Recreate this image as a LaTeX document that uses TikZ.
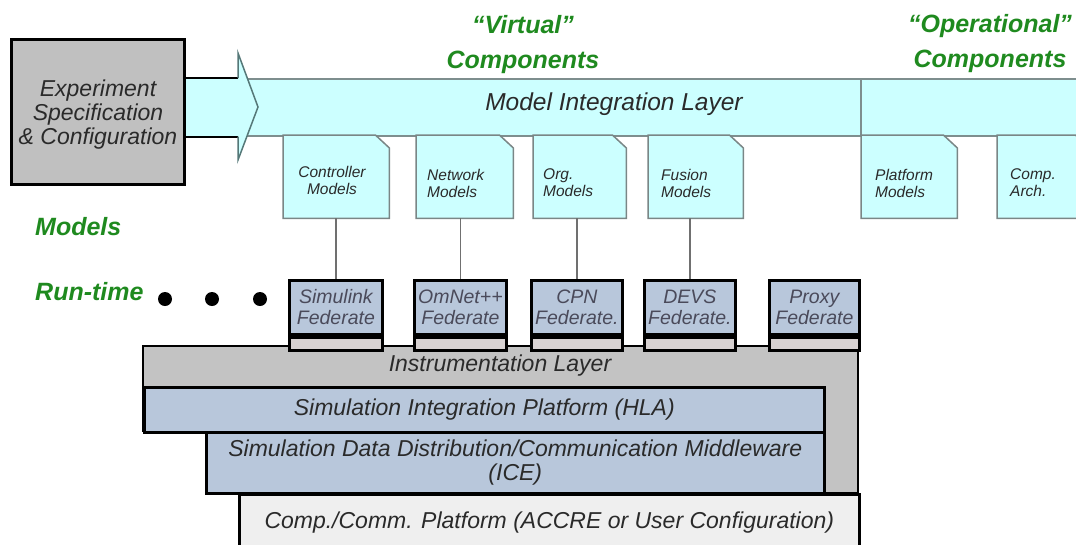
\documentclass[tikz,border=0pt]{standalone}
\usepackage{fontspec}
\setmainfont{Liberation Sans}
\usetikzlibrary{calc}
\definecolor{cyanfill}{HTML}{CCFFFF}
\definecolor{bandline}{HTML}{7E8E8E}
\definecolor{headline}{HTML}{557878}
\definecolor{fedblue}{HTML}{B8C7DB}
\definecolor{fedstrip}{HTML}{D8D2D2}
\definecolor{instgray}{HTML}{C3C3C3}
\definecolor{compgray}{HTML}{EFEFEF}
\definecolor{expgray}{HTML}{C0C0C0}
\definecolor{hdgreen}{HTML}{1F8A1F}
\definecolor{txtgray}{HTML}{2A2A2A}
\definecolor{fedtxt}{HTML}{4A4A5A}
\definecolor{mboxline}{HTML}{7A8686}
\definecolor{connline}{HTML}{707070}
\newcommand\foldbox[1]{\draw[mline] (#1.south west) -- (#1.north west) -- ([xshift=-14pt]#1.north east) -- ([yshift=-13pt]#1.north east) -- (#1.south east) -- cycle;}
\begin{document}
\begin{tikzpicture}[x=1pt,y=-1pt,
  expbox/.style={draw=black,line width=3pt,fill=expgray,inner sep=0pt},
  exptext/.style={inner sep=0pt,align=center,text=txtgray,font=\fontsize{23}{24}\selectfont\itshape},
  bandseg/.style={draw=bandline,line width=1.5pt,fill=cyanfill,inner sep=0pt,minimum height=57pt},
  mboxarea/.style={inner sep=0pt,minimum height=83pt},
  mline/.style={draw=mboxline,line width=1.5pt,fill=cyanfill},
  mtext/.style={inner sep=0pt,align=left,text=txtgray,font=\fontsize{15.5}{17}\selectfont\itshape},
  fed/.style={draw=black,line width=2.8pt,fill=fedblue,inner sep=0pt,minimum height=54pt,align=center,
    text=fedtxt,font=\fontsize{19.5}{21}\selectfont\itshape},
  fstrip/.style={draw=black,line width=2.8pt,fill=fedstrip,inner sep=0pt,minimum height=13pt},
  conn/.style={draw=connline,line width=1.5pt},
  grn/.style={text=hdgreen,inner sep=0pt,align=center,font=\fontsize{25}{35}\selectfont\bfseries\itshape},
  layer/.style={draw=black,line width=2.6pt,inner sep=0pt,align=center,text=txtgray,
    font=\fontsize{23}{24}\selectfont\itshape},
  dotn/.style={circle,fill=black,inner sep=0pt,minimum size=14pt}]
\useasboundingbox (0,0) rectangle (1076,544);
\clip (0,0) rectangle (1076,544);

% headers
\node[grn] (hvirt) at (523,45) {“Virtual”\\Components};
\node[grn] (hoper) at (990,44) {“Operational”\\Components};

% model integration band
\node[bandseg,minimum width=622pt,anchor=north west] (bandv) at (238,78) {};
\node[bandseg,minimum width=240pt,anchor=north west] (bando) at (860,78) {};
\node[inner sep=0pt,text=txtgray,font=\fontsize{24.5}{26}\selectfont\itshape] (milt) at (614,104) {Model Integration Layer};

% experiment box and arrow
\node[expbox,minimum width=173pt,minimum height=145pt,anchor=north west] (exp) at (10,38) {};
\node[exptext] (expt) at ([yshift=-3pt]exp.center) {Experiment\\Specification\\\& Configuration};
\coordinate (htop) at (238,53);
\coordinate (htip) at (258,107);
\coordinate (hbot) at (238,160);
\fill[cyanfill] (exp.east |- bandv.north) -- (bandv.north west) -- (htop) -- (htip) -- (hbot) -- (bandv.south west) -- (exp.east |- bandv.south) -- cycle;
\draw[black,line width=2pt] (exp.east |- bandv.north) -- (bandv.north west);
\draw[black,line width=2pt] (exp.east |- bandv.south) -- (bandv.south west);
\draw[headline,line width=1.5pt,line join=miter] (bandv.north west) -- (htop) -- (htip) -- (hbot) -- (bandv.south west);

% model boxes
\node[mboxarea,minimum width=106pt,anchor=north west] (mc) at (283,135) {};
\node[mboxarea,minimum width=97pt,anchor=north west] (mn) at (416,135) {};
\node[mboxarea,minimum width=93pt,anchor=north west] (mo) at (533,135) {};
\node[mboxarea,minimum width=95pt,anchor=north west] (mf) at (648,135) {};
\node[mboxarea,minimum width=96pt,anchor=north west] (mp) at (861,135) {};
\node[mboxarea,minimum width=92pt,anchor=north west] (ma) at (997,135) {};
\foldbox{mc}\foldbox{mn}\foldbox{mo}\foldbox{mf}\foldbox{mp}\foldbox{ma}
\node[mtext,align=center] (mct) at (332,180) {Controller\\Models};
\node[mtext,anchor=west] (mnt) at (427,183) {Network\\Models};
\node[mtext,anchor=west] (mot) at (543,183) {Org.\\Models};
\node[mtext,anchor=west] (mft) at (661,183) {Fusion\\Models};
\node[mtext,anchor=west] (mpt) at (875,183) {Platform\\Models};
\node[mtext,anchor=west] (mat) at (1010,183) {Comp.\\Arch.};

% side labels
\node[grn,anchor=west] (lmod) at (35,227) {Models};
\node[grn,anchor=west] (lrun) at (35,292) {Run-time};
\node[dotn] (d1) at (165,299) {};
\node[dotn] (d2) at (212,299) {};
\node[dotn] (d3) at (260,299) {};

% layers
\draw[black,line width=2.6pt,fill=instgray] (143,346) -- (858,346) -- (858,493) -- (823,493) -- (823,431) -- (143,431) -- cycle;
\node[inner sep=0pt,text=txtgray,font=\fontsize{23}{24}\selectfont\itshape] (inst) at (500,366) {Instrumentation Layer};
\node[layer,fill=fedblue,minimum width=680pt,minimum height=45pt,anchor=north west] (hla) at (143,386) {Simulation Integration Platform (HLA)};
\node[layer,fill=fedblue,minimum width=618pt,minimum height=61pt,anchor=north west] (ice) at (205,431) {Simulation Data Distribution/Communication Middleware\\(ICE)};
\node[layer,fill=compgray,minimum width=620pt,minimum height=56pt,anchor=north west] (comp) at (238,493) {Comp./Comm. Platform (ACCRE or User Configuration)};

% federates
\node[fed,minimum width=93pt,anchor=north west] (fs) at (288,279) {Simulink\\Federate};
\node[fed,minimum width=92pt,anchor=north west] (fo) at (413,279) {OmNet++\\Federate};
\node[fed,minimum width=91pt,anchor=north west] (fc) at (530,279) {CPN\\Federate.};
\node[fed,minimum width=91pt,anchor=north west] (fd) at (643,279) {DEVS\\Federate.};
\node[fed,minimum width=90pt,anchor=north west] (fp) at (768,279) {Proxy\\Federate};
\node[fstrip,minimum width=93pt,anchor=north west] (ss) at (fs.south west) {};
\node[fstrip,minimum width=92pt,anchor=north west] (so) at (fo.south west) {};
\node[fstrip,minimum width=91pt,anchor=north west] (sc) at (fc.south west) {};
\node[fstrip,minimum width=91pt,anchor=north west] (sd) at (fd.south west) {};
\node[fstrip,minimum width=90pt,anchor=north west] (sp) at (fp.south west) {};

% connectors
\draw[conn] (fs.north |- mc.south) -- (fs.north);
\draw[conn] (fo.north |- mn.south) -- (fo.north);
\draw[conn] (fc.north |- mo.south) -- (fc.north);
\draw[conn] (fd.north |- mf.south) -- (fd.north);
\end{tikzpicture}
\end{document}
